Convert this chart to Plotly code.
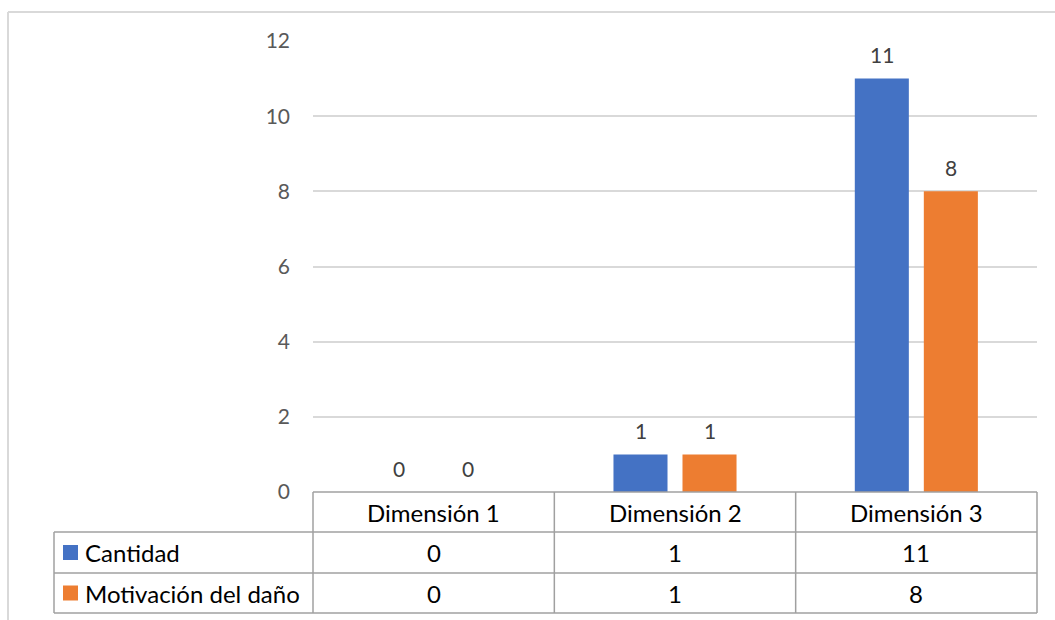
import plotly.graph_objects as go

# Chart data
categories = ["Dimensión 1", "Dimensión 2", "Dimensión 3"]
series_names = ["Cantidad", "Motivación del daño"]
cantidad = [0, 1, 11]
motivacion = [0, 1, 8]
y_ticks = [0, 2, 4, 6, 8, 10, 12]

colors = ["#4472C4", "#ED7D31"]
W, H = 1055, 620
FONT = "Lato"
GRID = "#d9d9d9"
TABLE_LINE = "#a0a0a0"


def px(x):
    return x / W


def py(y):
    return 1 - y / H


plot_left, plot_right = 313, 1037
plot_top, plot_bottom = 41, 492
row_edges = [492, 532, 573, 613]
label_left = 54
bar_shift = 34.5  # half the distance between the two bar centres in a group

series_values = [cantidad, motivacion]

fig = go.Figure()
for name, vals, col in zip(series_names, series_values, colors):
    fig.add_trace(go.Bar(
        x=categories, y=vals, name=name, marker=dict(color=col, line=dict(width=0)),
        showlegend=False, hoverinfo="x+y+name",
    ))

shapes = []
# outer chart frame (left and top edges visible)
shapes.append(dict(type="line", xref="paper", yref="paper", x0=px(8), x1=1, y0=py(12), y1=py(12),
                   line=dict(color=GRID, width=2)))
shapes.append(dict(type="line", xref="paper", yref="paper", x0=px(8), x1=px(8), y0=0, y1=py(12),
                   line=dict(color=GRID, width=2)))


def hline(y, x0, x1):
    shapes.append(dict(type="line", xref="paper", yref="paper", x0=px(x0), x1=px(x1),
                       y0=py(y), y1=py(y), line=dict(color=TABLE_LINE, width=1.5)))


def vline(x, y0, y1):
    shapes.append(dict(type="line", xref="paper", yref="paper", x0=px(x), x1=px(x),
                       y0=py(y0), y1=py(y1), line=dict(color=TABLE_LINE, width=1.5)))


# data table grid
hline(row_edges[0], plot_left, plot_right)
for y in row_edges[1:]:
    hline(y, label_left, plot_right)
vline(label_left, row_edges[1], row_edges[3])
ncat = len(categories)
for k in range(ncat + 1):
    x = plot_left + (plot_right - plot_left) * k / ncat
    vline(x, row_edges[0], row_edges[3])

annotations = []
# value labels above the bars
for s, vals in enumerate(series_values):
    shift = -bar_shift if s == 0 else bar_shift
    for c, v in zip(categories, vals):
        annotations.append(dict(x=c, y=v, xref="x", yref="y", text=str(v), showarrow=False,
                                xshift=shift, yshift=24, xanchor="center", yanchor="middle",
                                font=dict(family=FONT, size=21, color="#404040")))
# header row
for c in categories:
    annotations.append(dict(x=c, y=py((row_edges[0] + row_edges[1]) / 2), xref="x", yref="paper",
                            text=c, showarrow=False, xanchor="center", yanchor="middle",
                            font=dict(family=FONT, size=24, color="#000000")))
# value rows with legend keys
for r, (name, vals, col) in enumerate(zip(series_names, series_values, colors)):
    yc = (row_edges[r + 1] + row_edges[r + 2]) / 2
    shapes.append(dict(type="rect", xref="paper", yref="paper",
                       x0=px(63), x1=px(78), y0=py(yc + 7.5), y1=py(yc - 7.5),
                       fillcolor=col, line=dict(width=0)))
    annotations.append(dict(x=px(83), y=py(yc), xref="paper", yref="paper", text=name,
                            showarrow=False, xanchor="left", yanchor="middle",
                            font=dict(family=FONT, size=24, color="#000000")))
    for c, v in zip(categories, vals):
        annotations.append(dict(x=c, y=py(yc), xref="x", yref="paper", text=str(v),
                                showarrow=False, xanchor="center", yanchor="middle",
                                font=dict(family=FONT, size=24, color="#000000")))

fig.update_layout(
    width=W, height=H,
    margin=dict(l=0, r=0, t=0, b=0, pad=0),
    paper_bgcolor="white", plot_bgcolor="white",
    barmode="group", bargap=0.428, bargroupgap=0.217,
    shapes=shapes, annotations=annotations,
    xaxis=dict(domain=[px(plot_left), px(plot_right)], showticklabels=False, automargin=False,
               showgrid=False, zeroline=False, showline=False, ticks=""),
    yaxis=dict(domain=[py(plot_bottom), py(plot_top)], range=[0, 12], tickvals=y_ticks,
               automargin=False,
               showgrid=True, gridcolor=GRID, gridwidth=1.5, zeroline=False, showline=False,
               ticks="", ticklabelstandoff=22,
               tickfont=dict(family=FONT, size=21, color="#595959")),
    font=dict(family=FONT),
)

fig.write_html("out.html")
